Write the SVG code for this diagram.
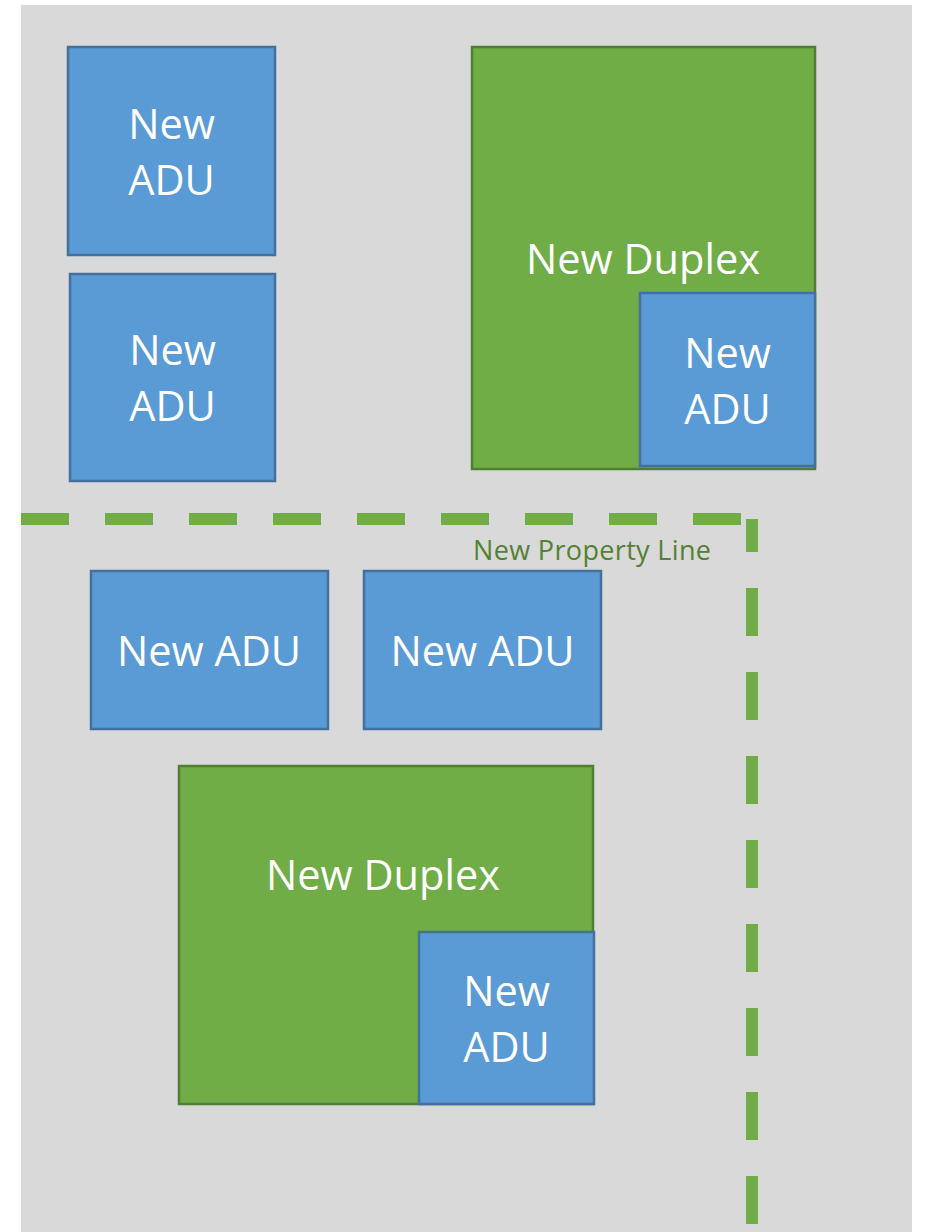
<svg xmlns="http://www.w3.org/2000/svg" width="925" height="1232" viewBox="0 0 925 1232">
<style>
.adu{fill:#5B9BD5;stroke:#41719C;stroke-width:2.5}
.dup{fill:#70AD47;stroke:#507E32;stroke-width:2.5}
.t{font-family:"Open Sans","Liberation Sans",sans-serif;font-size:41.5px;fill:#fff;text-anchor:middle}
.pl{stroke:#70AD47;stroke-width:12;fill:none;stroke-dasharray:48 36}
</style>
<rect x="21" y="5" width="891" height="1227" fill="#D9D9D9"/>
<g id="adu1"><rect class="adu" x="68" y="47" width="207" height="208"/><text class="t" x="171.5" y="139">New</text><text class="t" x="171.5" y="195">ADU</text></g>
<g id="adu2"><rect class="adu" x="70" y="274" width="205" height="207"/><text class="t" x="172.5" y="365">New</text><text class="t" x="172.5" y="421">ADU</text></g>
<g id="duplex1"><rect class="dup" x="472" y="47" width="343" height="422"/><text class="t" x="643" y="274">New Duplex</text></g>
<g id="adu3"><rect class="adu" x="640" y="293" width="175" height="173"/><text class="t" x="727.5" y="368">New</text><text class="t" x="727.5" y="424">ADU</text></g>
<g id="adu4"><rect class="adu" x="91" y="571" width="237" height="158"/><text class="t" x="209" y="666">New ADU</text></g>
<g id="adu5"><rect class="adu" x="364" y="571" width="237" height="158"/><text class="t" x="482.5" y="666">New ADU</text></g>
<g id="duplex2"><rect class="dup" x="179" y="766" width="414" height="338"/><text class="t" x="383" y="890">New Duplex</text></g>
<g id="adu6"><rect class="adu" x="419" y="932" width="175" height="172"/><text class="t" x="506.5" y="1006">New</text><text class="t" x="506.5" y="1062">ADU</text></g>
<g id="connectors">
<line class="pl" x1="21" y1="519" x2="741" y2="519"/>
<line class="pl" x1="752" y1="519" x2="752" y2="1232" stroke-dashoffset="15"/>
</g>
<g id="label"><text x="473" y="560" font-family="'Open Sans','Liberation Sans',sans-serif" font-size="27" fill="#538135" textLength="238">New Property Line</text></g>
</svg>
